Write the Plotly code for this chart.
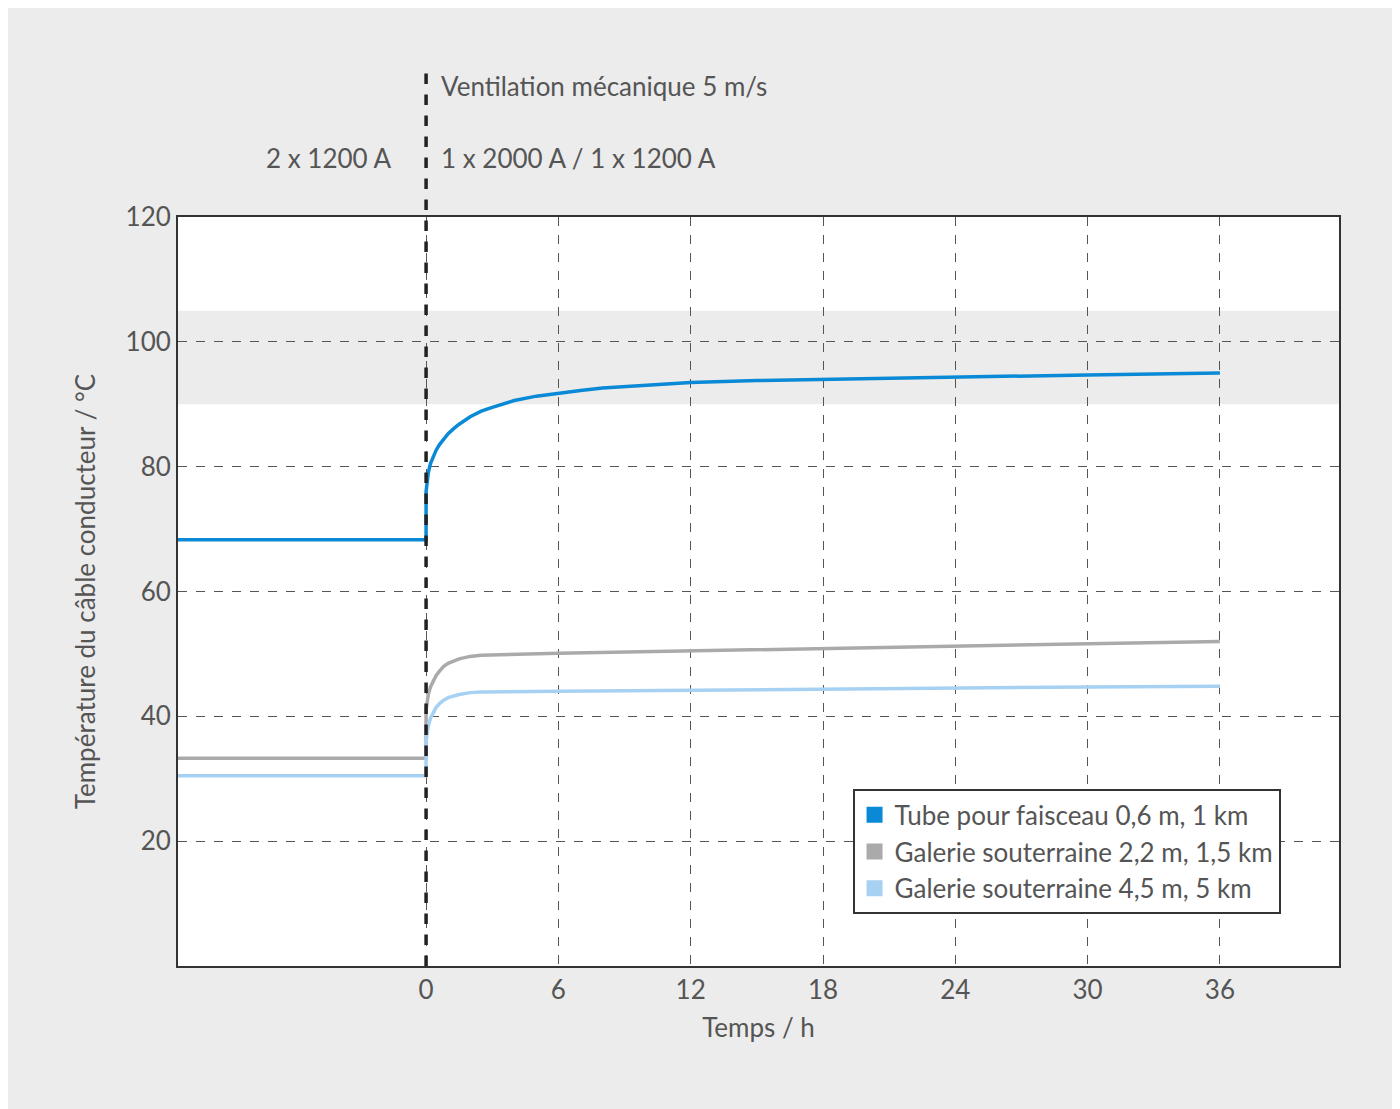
import plotly.graph_objects as go

t_blue = [-11.25, 0, 0, 0.05, 0.1, 0.2, 0.3, 0.45, 0.6, 0.8, 1, 1.25, 1.5, 2, 2.5, 3, 4, 5, 6, 7, 8, 10, 12, 15, 18, 24, 30, 36]
v_blue = [68.3, 68.3, 76, 77.8, 79, 80.5, 81.5, 82.6, 83.5, 84.5, 85.3, 86.1, 86.8, 88, 88.9, 89.5, 90.6, 91.3, 91.8, 92.2, 92.6, 93.1, 93.5, 93.8, 94.0, 94.4, 94.7, 95.0]
t_gray = [-11.25, 0, 0, 0.05, 0.1, 0.2, 0.3, 0.45, 0.6, 0.8, 1, 1.25, 1.5, 2, 2.5, 6, 12, 18, 24, 30, 36]
v_gray = [33.3, 33.3, 41, 42.5, 43.5, 44.7, 45.5, 46.5, 47.2, 48.0, 48.5, 48.9, 49.2, 49.6, 49.8, 50.1, 50.5, 50.8, 51.2, 51.6, 52.0]
v_light = [30.5, 30.5, 36, 37.5, 38.5, 39.7, 40.5, 41.4, 42, 42.6, 43, 43.3, 43.5, 43.8, 43.9, 44.0, 44.2, 44.4, 44.5, 44.7, 44.8]
names = ["Tube pour faisceau 0,6 m, 1 km", "Galerie souterraine 2,2 m, 1,5 km", "Galerie souterraine 4,5 m, 5 km"]
colors = ["#0a8ad6", "#aaaaaa", "#a6d1f2"]
x_ticks = [0, 6, 12, 18, 24, 30, 36]
y_ticks = [20, 40, 60, 80, 100, 120]

font = "Lato"
fig = go.Figure()
for (t, v), c in zip([(t_gray, v_gray), (t_gray, v_light), (t_blue, v_blue)], [colors[1], colors[2], colors[0]]):
    fig.add_trace(go.Scatter(x=t, y=v, mode="lines", line=dict(color=c, width=3.5), showlegend=False))
for n, c in zip(names, colors):
    fig.add_trace(go.Scatter(x=[None], y=[None], mode="markers", name=n,
                             marker=dict(symbol="square", size=30, color=c)))

fig.add_shape(type="rect", xref="paper", x0=0, x1=1, y0=90, y1=105, fillcolor="#ececec", line_width=0, layer="below")
fig.add_shape(type="line", x0=0, x1=0, yref="paper", y0=0, y1=1.198, line=dict(color="#222", width=3.5, dash="dash"))

fig.add_annotation(x=0.6, y=1.199, xref="x", yref="paper", text="Ventilation mécanique 5 m/s", showarrow=False, xanchor="left", font=dict(size=26, color="#555", family=font))
fig.add_annotation(x=0.6, y=1.103, xref="x", yref="paper", text="1 x 2000 A / 1 x 1200 A", showarrow=False, xanchor="left", font=dict(size=26, color="#555", family=font))
fig.add_annotation(x=-1.5, y=1.103, xref="x", yref="paper", text="2 x 1200 A", showarrow=False, xanchor="right", font=dict(size=26, color="#555", family=font))

fig.update_layout(
    width=1400, height=1109, paper_bgcolor="#ececec", plot_bgcolor="white",
    margin=dict(l=170, r=69, t=209, b=151),
    font=dict(family=font, size=24, color="#555"),
    xaxis=dict(range=[-11.25, 41.4], tickvals=x_ticks, showgrid=True, gridcolor="#555", griddash="dash", gridwidth=1,
               showline=True, linecolor="#333", linewidth=2, mirror=True, zeroline=False, ticks="",
               title=dict(text="Temps / h", font=dict(size=26)), tickfont=dict(size=26)),
    yaxis=dict(range=[0, 120], tickvals=y_ticks, showgrid=True, gridcolor="#555", griddash="dash", gridwidth=1,
               showline=True, linecolor="#333", linewidth=2, mirror=True, zeroline=False, ticks="",
               title=dict(text="Température du câble conducteur / °C", font=dict(size=26), standoff=22), tickfont=dict(size=26)),
    legend=dict(x=0.581, y=0.236, xanchor="left", yanchor="top", bgcolor="white", bordercolor="#333", borderwidth=2,
                font=dict(size=26, color="#555"), itemsizing="trace"),
)
fig.write_html("out.html")
